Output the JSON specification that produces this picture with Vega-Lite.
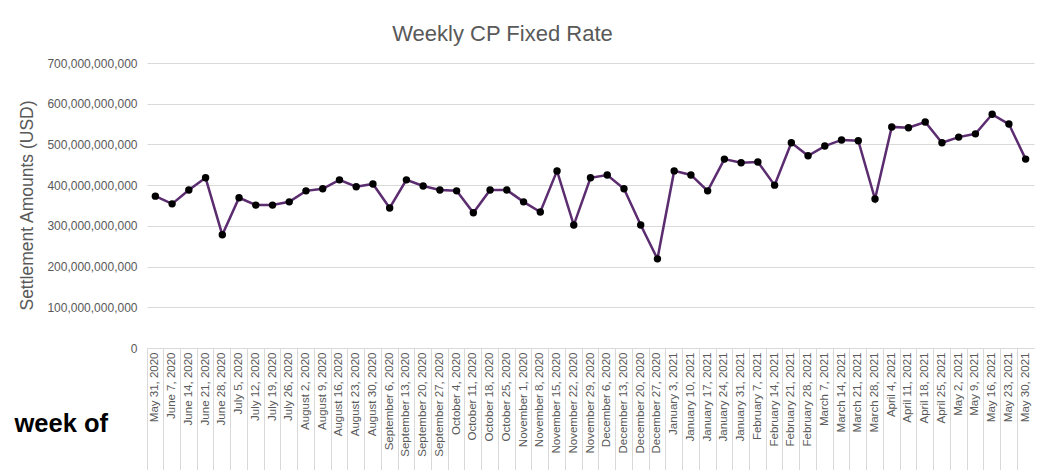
{
  "$schema": "https://vega.github.io/schema/vega-lite/v6.json",
  "width": 887,
  "height": 285,
  "autosize": {"type": "none"},
  "padding": {"left": 147, "top": 63, "right": 13, "bottom": 122},
  "background": "white",
  "config": {"view": {"stroke": null}},
  "title": {
    "text": "Weekly CP Fixed Rate",
    "font": "Liberation Sans",
    "fontSize": 22,
    "fontWeight": "normal",
    "color": "#595959",
    "anchor": "middle",
    "dx": -88,
    "offset": 11
  },
  "data": {
    "values": [
      {"week": "May 31, 2020", "amount": 373000000000},
      {"week": "June 7, 2020", "amount": 354000000000},
      {"week": "June 14, 2020", "amount": 388000000000},
      {"week": "June 21, 2020", "amount": 418000000000},
      {"week": "June 28, 2020", "amount": 278000000000},
      {"week": "July 5, 2020", "amount": 369000000000},
      {"week": "July 12, 2020", "amount": 351000000000},
      {"week": "July 19, 2020", "amount": 351000000000},
      {"week": "July 26, 2020", "amount": 359000000000},
      {"week": "August 2, 2020", "amount": 386000000000},
      {"week": "August 9, 2020", "amount": 391000000000},
      {"week": "August 16, 2020", "amount": 413000000000},
      {"week": "August 23, 2020", "amount": 396000000000},
      {"week": "August 30, 2020", "amount": 403000000000},
      {"week": "September 6, 2020", "amount": 344000000000},
      {"week": "September 13, 2020", "amount": 413000000000},
      {"week": "September 20, 2020", "amount": 398000000000},
      {"week": "September 27, 2020", "amount": 388000000000},
      {"week": "October 4, 2020", "amount": 386000000000},
      {"week": "October 11, 2020", "amount": 332000000000},
      {"week": "October 18, 2020", "amount": 388000000000},
      {"week": "October 25, 2020", "amount": 388000000000},
      {"week": "November 1, 2020", "amount": 359000000000},
      {"week": "November 8, 2020", "amount": 334000000000},
      {"week": "November 15, 2020", "amount": 435000000000},
      {"week": "November 22, 2020", "amount": 302000000000},
      {"week": "November 29, 2020", "amount": 418000000000},
      {"week": "December 6, 2020", "amount": 425000000000},
      {"week": "December 13, 2020", "amount": 391000000000},
      {"week": "December 20, 2020", "amount": 302000000000},
      {"week": "December 27, 2020", "amount": 219000000000},
      {"week": "January 3, 2021", "amount": 435000000000},
      {"week": "January 10, 2021", "amount": 425000000000},
      {"week": "January 17, 2021", "amount": 386000000000},
      {"week": "January 24, 2021", "amount": 464000000000},
      {"week": "January 31, 2021", "amount": 455000000000},
      {"week": "February 7, 2021", "amount": 457000000000},
      {"week": "February 14, 2021", "amount": 400000000000},
      {"week": "February 21, 2021", "amount": 504000000000},
      {"week": "February 28, 2021", "amount": 472000000000},
      {"week": "March 7, 2021", "amount": 496000000000},
      {"week": "March 14, 2021", "amount": 511000000000},
      {"week": "March 21, 2021", "amount": 509000000000},
      {"week": "March 28, 2021", "amount": 366000000000},
      {"week": "April 4, 2021", "amount": 543000000000},
      {"week": "April 11, 2021", "amount": 541000000000},
      {"week": "April 18, 2021", "amount": 555000000000},
      {"week": "April 25, 2021", "amount": 504000000000},
      {"week": "May 2, 2021", "amount": 518000000000},
      {"week": "May 9, 2021", "amount": 526000000000},
      {"week": "May 16, 2021", "amount": 574000000000},
      {"week": "May 23, 2021", "amount": 550000000000},
      {"week": "May 30, 2021", "amount": 464000000000}
    ]
  },
  "encoding": {
    "x": {
      "field": "week",
      "type": "nominal",
      "sort": null,
      "scale": {"type": "band", "paddingInner": 0, "paddingOuter": 0},
      "axis": {
        "orient": "bottom",
        "domain": true,
        "domainColor": "#d9d9d9",
        "ticks": true,
        "tickColor": "#d9d9d9",
        "tickSize": 122,
        "bandPosition": 0,
        "labelAngle": -90,
        "labelFont": "Liberation Sans",
        "labelFontSize": 11.5,
        "labelColor": "#595959",
        "labelPadding": -118,
        "labelOverlap": false,
        "labelBound": false,
        "title": "week of",
        "titleFont": "Liberation Sans",
        "titleFontSize": 25.5,
        "titleFontWeight": "bold",
        "titleColor": "#000000",
        "titleAngle": 0,
        "titleAlign": "left",
        "titleBaseline": "middle",
        "titleX": -133,
        "titleY": 75
      }
    },
    "y": {
      "field": "amount",
      "type": "quantitative",
      "scale": {"domain": [0, 700000000000], "nice": false},
      "axis": {
        "values": [0, 100000000000, 200000000000, 300000000000, 400000000000, 500000000000, 600000000000, 700000000000],
        "format": ",.0f",
        "domain": false,
        "ticks": false,
        "grid": true,
        "gridColor": "#d9d9d9",
        "gridWidth": 1,
        "labelFont": "Liberation Sans",
        "labelFontSize": 12,
        "labelColor": "#595959",
        "labelPadding": 10,
        "title": "Settlement Amounts (USD)",
        "titleFont": "Liberation Sans",
        "titleFontSize": 17.5,
        "titleFontWeight": "normal",
        "titleColor": "#595959",
        "titleAngle": -90,
        "titleAlign": "center",
        "titleBaseline": "middle",
        "titleX": -120,
        "titleY": 142
      }
    }
  },
  "layer": [
    {"mark": {"type": "line", "color": "#5b2c6f", "strokeWidth": 2.5}},
    {"mark": {"type": "point", "filled": true, "color": "#000000", "size": 55, "opacity": 1}}
  ]
}
